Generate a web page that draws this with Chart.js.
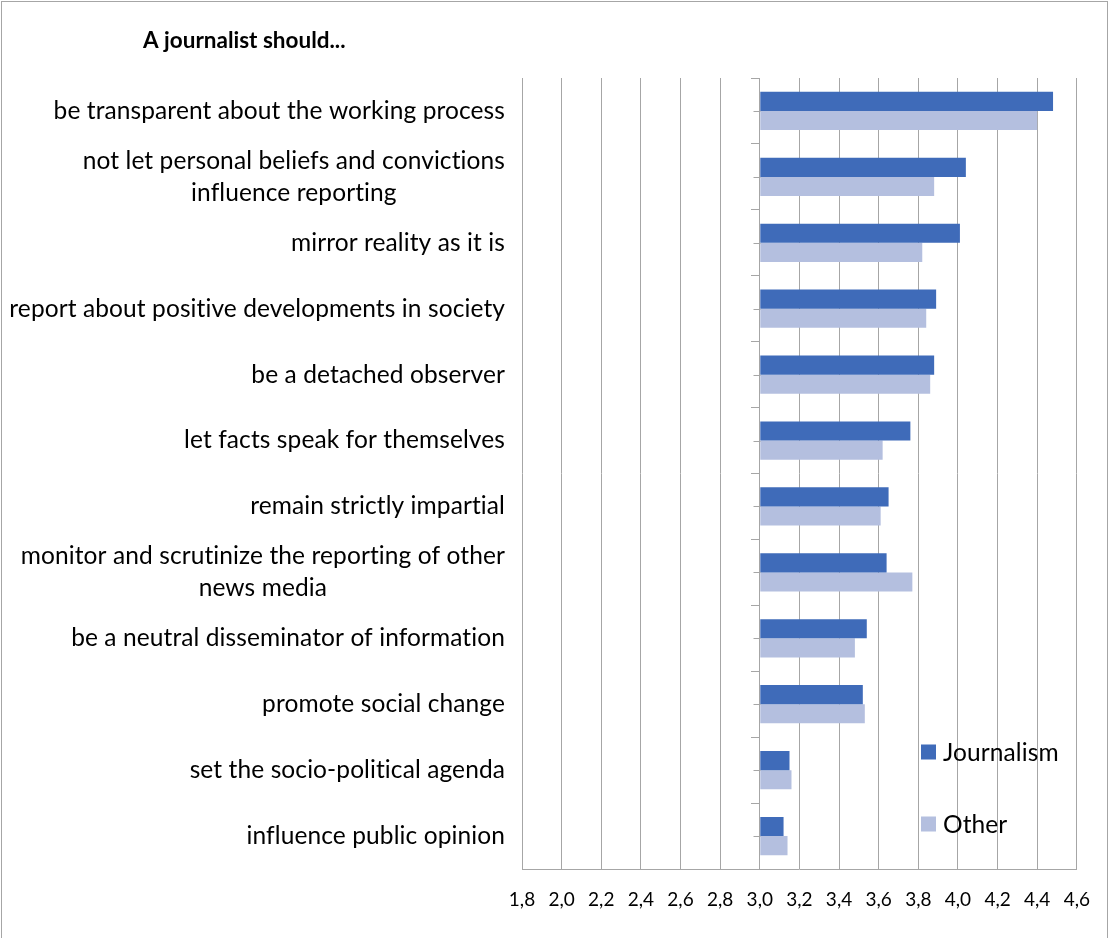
<!DOCTYPE html>
<html>
<head>
<meta charset="utf-8">
<title>A journalist should...</title>
<script src="https://cdn.jsdelivr.net/npm/chart.js@4.4.1/dist/chart.umd.min.js"></script>
<style>
  html, body { margin: 0; padding: 0; background: #fff; }
  canvas { display: block; }
</style>
</head>
<body>
<canvas id="chart" width="1109" height="938"></canvas>
<script>
// --- data ---
const chartTitle = 'A journalist should...';

const categories = [
    ['be transparent about the working process'],
    ['not let personal beliefs and convictions', 'influence reporting'],
    ['mirror reality as it is'],
    ['report about positive developments in society'],
    ['be a detached observer'],
    ['let facts speak for themselves'],
    ['remain strictly impartial'],
    ['monitor and scrutinize the reporting of other', 'news media'],
    ['be a neutral disseminator of information'],
    ['promote social change'],
    ['set the socio-political agenda'],
    ['influence public opinion']
];

const seriesNames = ['Journalism', 'Other'];
const journalism = [4.48, 4.04, 4.01, 3.89, 3.88, 3.76, 3.65, 3.64, 3.54, 3.52, 3.15, 3.12];
const other      = [4.40, 3.88, 3.82, 3.84, 3.86, 3.62, 3.61, 3.77, 3.48, 3.53, 3.16, 3.14];

const xTickLabels = ['1,8', '2,0', '2,2', '2,4', '2,6', '2,8', '3,0', '3,2',
                     '3,4', '3,6', '3,8', '4,0', '4,2', '4,4', '4,6'];
const xMin = 1.8;
const xMax = 4.6;
const xStep = 0.2;
const barBase = 3.0;

// --- styling ---
const FONT = 'Lato, "Open Sans", sans-serif';
const GRID = '#a6a6a6';
const COLORS = ['#3f6bb9', '#b4bfdf'];

// title, wrapped category labels, minor ticks, legend and outer frame
const decorations = {
    id: 'decorations',
    beforeDraw(chart) {
        const ctx = chart.ctx;
        ctx.save();
        ctx.strokeStyle = GRID;
        ctx.lineWidth = 1;
        ctx.strokeRect(1.5, 1.5, chart.width - 3, chart.height + 4);
        ctx.restore();
    },
    afterDraw(chart) {
        const ctx = chart.ctx;
        const xs = chart.scales.x;
        const ys = chart.scales.y;
        ctx.save();
        ctx.fillStyle = '#000';

        ctx.font = `bold 22.5px ${FONT}`;
        ctx.textAlign = 'left';
        ctx.textBaseline = 'alphabetic';
        ctx.fillText(chartTitle, 143, 48);

        // labels: block right-aligned, lines centred inside the block
        ctx.font = `24.5px ${FONT}`;
        ctx.letterSpacing = '0.1px'; // also stops the "ti" ligature
        ctx.textAlign = 'center';
        ctx.textBaseline = 'middle';
        const labelRight = 505;
        const lineHeight = 32;
        categories.forEach((lines, i) => {
            const cy = ys.getPixelForValue(i);
            const w = Math.max(...lines.map(l => ctx.measureText(l).width));
            const cx = labelRight - w / 2;
            lines.forEach((line, j) => {
                ctx.fillText(line, cx, cy + (j - (lines.length - 1) / 2) * lineHeight);
            });
        });

        // short ticks at the centre of each category
        const ax = Math.round(xs.getPixelForValue(barBase)) + 0.5;
        ctx.strokeStyle = GRID;
        ctx.lineWidth = 1;
        categories.forEach((_, i) => {
            const cy = Math.round(ys.getPixelForValue(i)) + 0.5;
            ctx.beginPath();
            ctx.moveTo(ax - 7, cy);
            ctx.lineTo(ax, cy);
            ctx.stroke();
        });

        // legend inside the plot, lower right
        ctx.font = `24.5px ${FONT}`;
        ctx.textAlign = 'left';
        chart.data.datasets.forEach((ds, i) => {
            const ly = 752 + i * 72;
            ctx.fillStyle = ds.backgroundColor;
            ctx.fillRect(921, ly - 7.5, 15, 15);
            ctx.fillStyle = '#000';
            ctx.fillText(ds.label, 943, ly + 1);
        });
        ctx.restore();
    }
};

const chart = new Chart(document.getElementById('chart'), {
    type: 'bar',
    data: {
        labels: categories,
        datasets: [
            { label: seriesNames[0], data: journalism, backgroundColor: COLORS[0], base: barBase },
            { label: seriesNames[1], data: other, backgroundColor: COLORS[1], base: barBase }
        ]
    },
    options: {
        indexAxis: 'y',
        responsive: false,
        animation: false,
        categoryPercentage: 0.58,
        barPercentage: 1.0,
        layout: { padding: { left: 522, right: 31, top: 78, bottom: 0 } },
        plugins: {
            legend: { display: false },
            title: { display: false },
            tooltip: { enabled: false }
        },
        scales: {
            x: {
                type: 'linear',
                min: xMin,
                max: xMax,
                grid: { color: GRID, lineWidth: 1, drawTicks: false },
                border: { display: true, color: GRID, width: 1 },
                ticks: {
                    stepSize: xStep,
                    padding: 19,
                    color: '#000',
                    font: { family: FONT, size: 19 },
                    callback: (value, index) => xTickLabels[index]
                },
                afterFit: (scale) => { scale.height = 69; }
            },
            y: {
                position: { x: barBase },
                grid: { offset: true, drawOnChartArea: false, drawTicks: true, tickLength: 8, color: GRID },
                border: { display: true, color: GRID, width: 1 },
                ticks: { display: false }
            }
        }
    },
    plugins: [decorations]
});
</script>
</body>
</html>
